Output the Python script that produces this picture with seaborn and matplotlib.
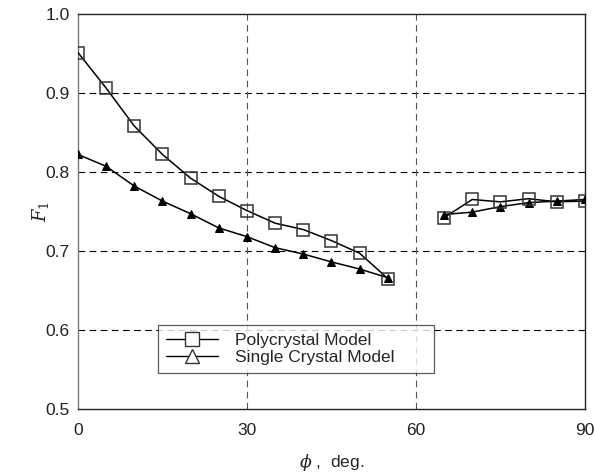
import matplotlib
matplotlib.use("Agg")
import matplotlib.pyplot as plt
from matplotlib.lines import Line2D
import seaborn as sns
import pandas as pd
import numpy as np

phi_left = [0, 5, 10, 15, 20, 25, 30, 35, 40, 45, 50, 55]
phi_right = [65, 70, 75, 80, 85, 90]

poly_left = [0.951, 0.906, 0.858, 0.822, 0.792, 0.769, 0.751, 0.735, 0.727, 0.713, 0.697, 0.665]
poly_right = [0.742, 0.765, 0.762, 0.766, 0.762, 0.763]

single_left = [0.822, 0.807, 0.782, 0.763, 0.747, 0.729, 0.718, 0.704, 0.696, 0.686, 0.677, 0.666]
single_right = [0.746, 0.749, 0.756, 0.761, 0.763, 0.765]

series_names = ["Polycrystal Model", "Single Crystal Model"]
x_ticks = [0, 30, 60, 90]
y_ticks = [0.5, 0.6, 0.7, 0.8, 0.9, 1.0]

sns.set_theme(style="white")
plt.rcParams['font.family'] = ['Liberation Sans', 'DejaVu Sans']
plt.rcParams['mathtext.fontset'] = 'dejavuserif'

fig = plt.figure(figsize=(5.95, 4.76), dpi=100)
ax = fig.add_axes([0.131, 0.141, 0.852, 0.830])

rows = []
for name, segs in [(series_names[0], [(phi_left, poly_left, "a"), (phi_right, poly_right, "b")]),
                   (series_names[1], [(phi_left, single_left, "a"), (phi_right, single_right, "b")])]:
    for xs, ys, seg in segs:
        for x, y in zip(xs, ys):
            rows.append({"phi": x, "F1": y, "series": name, "seg": seg})
df = pd.DataFrame(rows)

# grid lines
for yv in [0.6, 0.7, 0.8, 0.9]:
    ax.axhline(yv, color="black", lw=0.8, ls=(0, (6, 4)), zorder=1)
for xv in [30, 60]:
    ax.axvline(xv, color="#555555", lw=0.8, ls=(0, (6, 4)), zorder=1)

d_s = df[df.series == series_names[1]]
sns.lineplot(data=d_s, x="phi", y="F1", units="seg", estimator=None, ax=ax,
             color="black", lw=1.1, marker="^", markersize=6,
             markerfacecolor="black", markeredgecolor="black", zorder=3, legend=False)
d_p = df[df.series == series_names[0]]
sns.lineplot(data=d_p, x="phi", y="F1", units="seg", estimator=None, ax=ax,
             color="black", lw=1.1, marker="s", markersize=8.8,
             markerfacecolor="none", markeredgecolor="#333333", markeredgewidth=1.1,
             zorder=4, legend=False)

ax.set_xlim(0, 90)
ax.set_ylim(0.5, 1.0)
ax.set_xticks(x_ticks)
ax.set_xticklabels([str(t) for t in x_ticks])
ax.set_yticks(y_ticks)
ax.set_yticklabels([f"{t:.1f}" for t in y_ticks])
ax.tick_params(axis="both", labelsize=12.5, colors="#222222", direction="in", length=3, width=0.6)
ax.tick_params(axis="y", length=0, pad=6)
ax.tick_params(axis="x", pad=10, color="#777777")
for s in ax.spines.values():
    s.set_color("#222222")
    s.set_linewidth(1.0)
ax.spines["left"].set_color("#777777")

ax.set_xlabel(r"$\phi$ ,  deg.", fontsize=12.5, labelpad=10)
ax.set_ylabel(r"$F_1$", fontsize=13, labelpad=-4)

handles = [
    Line2D([0], [0], color="black", lw=1.0, marker="s", markersize=10,
           markerfacecolor="white", markeredgecolor="#333333"),
    Line2D([0], [0], color="black", lw=1.0, marker="^", markersize=10,
           markerfacecolor="white", markeredgecolor="#333333"),
]
leg = ax.legend(handles, series_names, loc="lower left",
                bbox_to_anchor=(0.158, 0.091, 0.544, 0.132), mode="expand",
                fontsize=12.5, frameon=True, fancybox=False, handlelength=3.0,
                borderpad=0.45, labelspacing=0.1, handletextpad=1.0, borderaxespad=0)
leg.get_frame().set_edgecolor("#333333")
leg.get_frame().set_linewidth(0.9)
leg.set_zorder(5)

fig.savefig("out.png", dpi=100)
